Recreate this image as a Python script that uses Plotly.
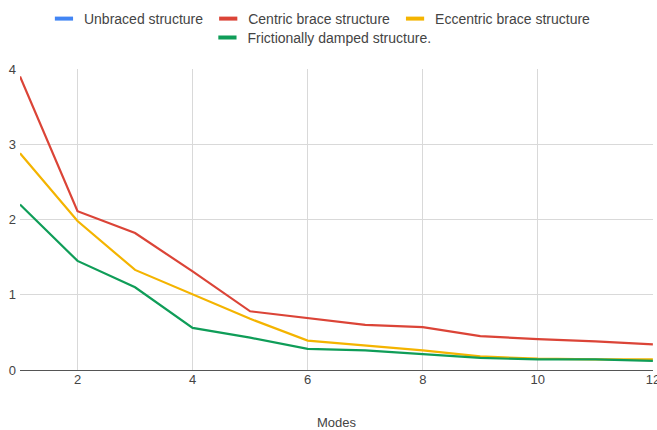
import plotly.graph_objects as go

modes = [1, 2, 3, 4, 5, 6, 7, 8, 9, 10, 11, 12]
unbraced = [None] * 12
centric = [3.90, 2.11, 1.82, 1.31, 0.78, 0.69, 0.60, 0.57, 0.45, 0.41, 0.38, 0.34]
eccentric = [2.88, 1.98, 1.33, 1.00, 0.68, 0.39, 0.33, 0.26, 0.18, 0.15, 0.14, 0.14]
frictional = [2.20, 1.45, 1.10, 0.56, 0.43, 0.28, 0.26, 0.21, 0.16, 0.14, 0.14, 0.12]

names = ["Unbraced structure", "Centric brace structure", "Eccentric brace structure",
         "Frictionally damped structure."]
colors = ["#4285F4", "#DB4437", "#F4B400", "#0F9D58"]
series = [unbraced, centric, eccentric, frictional]
legends = ["legend", "legend", "legend", "legend2"]

fig = go.Figure()
for n, c, s in zip(names, colors, series):
    fig.add_trace(go.Scatter(x=modes, y=s, name=n, mode="lines", showlegend=False,
                             line=dict(color=c, width=2.2)))
# legend entries drawn as short thick bars (Google-Charts style)
for n, c, lg in zip(names, colors, legends):
    fig.add_trace(go.Scatter(x=[None], y=[None], name=n, mode="markers", legend=lg,
                             marker=dict(symbol="line-ew", size=13, color=c,
                                         line=dict(color=c, width=4))))

font = dict(family="Arial, Liberation Sans, sans-serif", size=13, color="#444")
lfont = dict(family="Arial, Liberation Sans, sans-serif", size=14, color="#444")
fig.update_layout(
    width=657, height=430,
    margin=dict(l=20, r=4, t=69, b=60),
    paper_bgcolor="white", plot_bgcolor="white",
    font=font,
    showlegend=True,
    legend=dict(orientation="h", x=0.487, xanchor="center", y=1 - 3 / 430, yanchor="top",
                yref="container", xref="container", font=lfont, itemwidth=30,
                bgcolor="rgba(0,0,0,0)"),
    legend2=dict(orientation="h", x=0.49, xanchor="center", y=1 - 22 / 430, yanchor="top",
                 yref="container", xref="container", font=lfont, itemwidth=30,
                 bgcolor="rgba(0,0,0,0)"),
    xaxis=dict(range=[1, 12.002], tickvals=[2, 4, 6, 8, 10, 12], showgrid=True,
               gridcolor="#d9d9d9", gridwidth=1, zeroline=False, showline=False,
               title=dict(text="Modes", font=font, standoff=32), ticks="",
               tickfont=font, ticklabeloverflow="allow", automargin=False),
    yaxis=dict(range=[0, 4], tickvals=[0, 1, 2, 3, 4], showgrid=True,
               gridcolor="#d9d9d9", gridwidth=1, zeroline=True, zerolinecolor="#555",
               zerolinewidth=1.3, showline=False, ticks="", tickfont=font,
               ticklabelstandoff=3, automargin=False),
)

fig.write_html("out.html")
